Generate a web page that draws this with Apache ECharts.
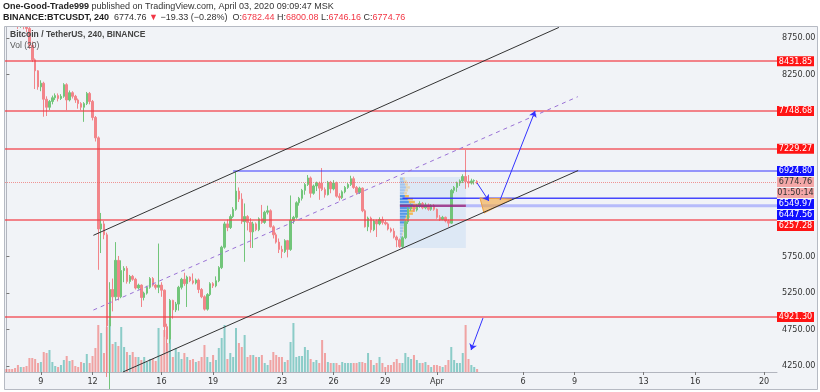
<!DOCTYPE html>
<html><head><meta charset="utf-8">
<script src="https://cdn.jsdelivr.net/npm/echarts@6/dist/echarts.min.js"></script>
<style>html,body{margin:0;padding:0;background:#fff;}#c{width:820px;height:392px;}</style>
</head><body><div id="c"></div>
<script>
// ---------- DATA ----------
const startMs = Date.UTC(2020, 2, 7, 0, 0);   // first 4h slot: Mar 7 00:00
const slotCount = 269;                          // slots up to Apr 20 16:00
const opens = [9150,9080,9050,9010,8960,8920,8950,8910,8880,8650,8450,8300,8080,8130,7910,7800,7880,7930,7960,7920,7950,8110,7900,8000,7950,7900,7850,7800,7850,7990,7880,7660,7380,6130,6200,6050,4800,5300,5200,5700,5200,5560,5590,5410,5480,5440,5320,5360,5190,5250,5330,5450,5360,5330,5360,5290,4790,4620,5150,5020,5100,5330,5440,5380,5470,5420,5390,5430,5300,5200,5030,5230,5380,5350,5420,5600,5880,6200,6150,6300,6400,6650,6540,6230,6300,6220,6090,6200,6120,6270,6220,6360,6380,6160,6050,5950,5850,5820,5970,5850,6250,6290,6490,6550,6660,6740,6830,6620,6720,6760,6760,6670,6600,6770,6680,6760,6580,6560,6640,6700,6740,6820,6700,6630,6690,6380,6160,6280,6120,6240,6200,6260,6220,6200,6130,6100,6020,5980,5890,6010,6230,6410,6450,6390,6440,6480,6420,6460,6400,6450,6400,6290,6260,6290,6240,6210,6660,6700,6760,6790,6850,6780,6760,6790,6782.44];
const closes = [9080,9050,9010,8960,8920,8950,8910,8880,8650,8450,8300,8080,8130,7910,7800,7880,7930,7960,7920,7950,8110,7900,8000,7950,7900,7850,7800,7850,7990,7880,7660,7380,6130,6200,6050,4800,5300,5200,5700,5200,5560,5590,5410,5480,5440,5320,5360,5190,5250,5330,5450,5360,5330,5360,5290,4790,4620,5150,5020,5100,5330,5440,5380,5470,5420,5390,5430,5300,5200,5030,5230,5380,5350,5420,5600,5880,6200,6150,6300,6400,6650,6540,6230,6300,6220,6090,6200,6120,6270,6220,6360,6380,6160,6050,5950,5850,5820,5970,5850,6250,6290,6490,6550,6660,6740,6830,6620,6720,6760,6690,6670,6600,6770,6680,6760,6580,6560,6640,6700,6740,6820,6700,6630,6690,6380,6160,6280,6120,6240,6200,6260,6220,6200,6130,6100,6020,5980,5890,6010,6230,6410,6450,6390,6440,6480,6420,6460,6400,6450,6400,6290,6260,6290,6240,6210,6660,6700,6760,6790,6850,6780,6760,6790,6794.09,6774.76];
const lows = [9040,8990,8960,8920,8875,8890,8870,8830,8600,8420,8050,8040,8020,7670,7680,7760,7840,7900,7880,7900,7930,7760,7880,7920,7860,7780,7760,7600,7830,7840,7620,7330,5570,5800,5990,4100,3782,5000,5150,5150,5180,5400,5380,5380,5420,5300,5300,5060,5150,5230,5310,5340,5300,5250,5200,4650,4450,4560,4900,4990,5010,5300,5350,5060,5400,5370,5370,5250,5180,5010,5010,5210,5320,5330,5400,5580,5860,6100,6130,6280,6380,6500,6200,5680,6110,5870,5870,6100,6100,6200,6200,6330,6150,6000,5930,5800,5730,5800,5740,5830,6200,6270,6450,6520,6600,6720,6560,6600,6650,6530,6650,6560,6590,6620,6660,6560,6520,6540,6620,6680,6720,6680,6600,6610,6360,6150,6100,6080,6100,6020,6180,6190,6180,6110,6080,6000,5880,5870,5870,5990,6200,6380,6370,6370,6420,6400,6400,6380,6380,6380,6270,6240,6250,6220,6160,6200,6620,6640,6720,6760,6680,6700,6740,6740,6746.16];
const highs = [9190,9150,9090,9040,8990,8990,8990,8950,8900,8700,8470,8310,8170,8150,7950,7900,7960,7990,7990,7980,8130,8130,8030,8020,7970,7920,7870,7870,8010,8010,7900,7680,7400,6350,6240,6080,5400,5450,5950,5760,5700,5620,5620,5500,5500,5460,5380,5370,5270,5350,5470,5470,5380,5930,5400,5300,4830,5170,5160,5130,5350,5460,5530,5490,5480,5520,5450,5450,5320,5220,5250,5400,5400,5480,5620,5900,6230,6260,6330,6430,6912,6700,6620,6480,6320,6280,6230,6220,6290,6460,6380,6450,6400,6180,6080,6000,5900,5990,5980,6590,6310,6510,6570,6680,6760,6870,6850,6740,6780,6780,6966,6700,6790,6790,6800,6780,6620,6660,6720,6760,6860,6850,6720,6710,6700,6400,6300,6300,6260,6260,6290,6300,6250,6220,6150,6140,6040,6000,6030,6250,6430,6480,6470,6470,6510,6500,6490,6480,6470,6470,6410,6320,6310,6300,6260,6680,6720,6780,6810,6880,7213,6870,6820,6810,6800.08];
const volumes = [3,3,3,4,7,5,5,6,14,14,13,9,10,20,19,22,10,6,5,7,12,16,11,12,6,5,10,9,18,9,16,24,47,39,19,45,52,28,30,26,45,25,20,17,20,15,15,12,15,10,13,13,11,44,17,42,29,47,15,24,20,13,19,15,12,13,10,11,15,27,15,10,17,12,24,34,47,13,19,15,44,29,25,37,15,17,17,15,15,17,9,7,12,20,17,15,15,10,12,30,49,15,16,16,25,22,13,10,12,9,32,19,10,9,9,9,7,10,9,9,9,9,9,10,10,9,19,12,7,9,15,9,5,7,7,10,13,9,9,19,15,13,17,12,9,9,10,7,5,7,7,6,5,7,12,25,12,9,9,19,47,13,7,5,3];
const tickDates = ['2020-03-09','2020-03-12','2020-03-16','2020-03-19','2020-03-23','2020-03-26','2020-03-29','2020-04-01','2020-04-06','2020-04-09','2020-04-13','2020-04-16','2020-04-20'];
const tickLabels = ['9','12','16','19','23','26','29','Apr','6','9','13','16','20'];
const priceAxisLabels = [4250, 4750, 5250, 5750, 8250, 8750];
const redLevels = [8431.85, 7748.68, 7229.27, 6257.28, 4921.30];
const lastPrice = 6774.76;
const highLevel = {price: 6924.80, fromSlot: 79};
const vpLevel = {price: 6549.97, fromSlot: 138};
const pocLevel = {price: 6447.56, fromSlot: 137.1, toSlot: 160.1};
const priceTags = [
  {text:'8431.85', price:8431.85, kind:'red'},
  {text:'7748.68', price:7748.68, kind:'red'},
  {text:'7229.27', price:7229.27, kind:'red'},
  {text:'6924.80', price:6924.80, kind:'blue'},
  {text:'6774.76', price:6774.76, kind:'last'},
  {text:'01:50:14', price:6774.76, kind:'last'},
  {text:'6549.97', price:6549.97, kind:'blue'},
  {text:'6447.56', price:6447.56, kind:'blue'},
  {text:'6257.28', price:6257.28, kind:'red'},
  {text:'4921.30', price:4921.30, kind:'red'}
];
// drawings (slot index, price)
const channelUpper = [[30.3, 6043], [192.5, 8895]];
const channelLower = [[40.6, 4168], [199.2, 6932]];
const channelMid = [[30.3, 5018], [199.1, 7945]];
const arrows = [
  [[164.0, 6761], [168.1, 6514]],
  [[172.0, 6527], [184.2, 7748]],
  [[166.05, 4908], [161.9, 4469]]
];
const triSlots = [165.0, 176.2, 166.4];
const triPrices = [6555, 6541, 6349];
const vpBox = {fromSlot: 137.1, toSlot: 160.1, top: 6843, bottom: 5869};
const profilePrice = [6820,6780,6740,6700,6660,6620,6580,6540,6500,6460,6420,6380,6340,6300,6260,6220,6180,6140,6100,6060,6020,5980,5940,5900];
const profileUp =    [3,4,5,6,5,4,5,8,9,13,10,9,8,6,5,5,4,3,3,2,2,1,1,1];
const profileDown =  [2,3,3,4,3,3,4,5,6,8,7,6,5,4,4,3,2,2,1,1,1,1,0,0];
const valueArea = [6200, 6580];

// ---------- BUILD ----------
const fontN = '"Liberation Sans Narrow","DejaVu Sans Condensed",sans-serif';
const fontS = '"Liberation Sans","DejaVu Sans",sans-serif';
const cats = [];
for (let i = 0; i < slotCount; i++) {
  const d = new Date(startMs + i * 4 * 3600e3);
  cats.push(d.toISOString().slice(0, 13).replace('T', ' ') + ':00');
}
const tickMap = {};
tickDates.forEach((d, i) => { tickMap[d + ' 00:00'] = tickLabels[i]; });
const isTick = (idx, v) => tickMap[v] !== undefined;

const upC = '#72c57a', dnC = '#f2858a';
const candleData = opens.map((o, i) => [o, closes[i], lows[i], highs[i]]);
const volData = volumes.map((v, i) => ({value: v, itemStyle: {color: closes[i] >= opens[i] ? 'rgba(38,166,154,0.5)' : 'rgba(239,83,80,0.5)'}}));

const redLine = {color: 'rgba(242,60,70,0.62)', width: 2, type: 'solid'};
const gridBox = {left: 5, right: 43, top: 27, bottom: 20};

const chart = echarts.init(document.getElementById('c'), null, {renderer: 'canvas'});
chart.setOption({
  animation: false,
  backgroundColor: '#f1f3f7',
  grid: [Object.assign({}, gridBox), Object.assign({}, gridBox)],
  xAxis: [
    {type: 'category', gridIndex: 0, data: cats, boundaryGap: true,
     axisLine: {show: true, lineStyle: {color: '#b2b5be', width: 1}},
     axisTick: {show: true, interval: isTick, alignWithLabel: true, length: 3, lineStyle: {color: '#777'}},
     axisLabel: {interval: isTick, formatter: v => tickMap[v], color: '#333', fontSize: 9, fontFamily: fontN, margin: 5},
     splitLine: {show: false}},
    {type: 'value', gridIndex: 0, min: -0.5, max: slotCount - 0.5, show: false},
    {type: 'category', gridIndex: 1, data: cats, show: false}
  ],
  yAxis: [
    {type: 'value', gridIndex: 0, position: 'right', min: 4168, max: 8901, scale: true,
     splitLine: {show: false},
     axisLine: {show: true, lineStyle: {color: '#b2b5be', width: 1}},
     axisTick: {show: true, customValues: priceAxisLabels, length: 3, lineStyle: {color: '#777'}},
     axisLabel: {customValues: priceAxisLabels, formatter: v => Number(v).toFixed(2), color: '#333', fontSize: 9, fontFamily: fontN, margin: 5}},
    {type: 'value', gridIndex: 1, min: 0, max: 345, show: false}
  ],
  series: [
    {type: 'bar', name: 'vol', xAxisIndex: 2, yAxisIndex: 1, data: volData, barWidth: 2, z: 1, silent: true},
    {type: 'custom', name: 'vpbox', xAxisIndex: 1, yAxisIndex: 0, z: 1, silent: true,
     data: [[vpBox.fromSlot, vpBox.top, vpBox.toSlot, vpBox.bottom]],
     renderItem: (params, api) => {
       const a = api.coord([api.value(0), api.value(1)]);
       const b = api.coord([api.value(2), api.value(3)]);
       return {type: 'rect', shape: {x: a[0], y: a[1], width: b[0] - a[0], height: b[1] - a[1]}, style: {fill: 'rgba(120,175,235,0.16)'}};
     }},
    {type: 'custom', name: 'profile', xAxisIndex: 1, yAxisIndex: 0, z: 2, silent: true,
     data: profilePrice.map((p, i) => [vpBox.fromSlot, p, profileUp[i], profileDown[i]]),
     renderItem: (params, api) => {
       const p = api.value(1), up = api.value(2), dn = api.value(3);
       const pt = api.coord([api.value(0), p]);
       const h = Math.abs(api.size([0, 40])[1]) * 0.82;
       const inVA = p >= valueArea[0] && p <= valueArea[1];
       return {type: 'group', children: [
         {type: 'rect', shape: {x: pt[0], y: pt[1] - h / 2, width: up, height: h}, style: {fill: inVA ? 'rgba(40,125,225,0.75)' : 'rgba(40,125,225,0.32)'}},
         {type: 'rect', shape: {x: pt[0] + up, y: pt[1] - h / 2, width: dn, height: h}, style: {fill: inVA ? 'rgba(245,175,50,0.8)' : 'rgba(245,175,50,0.35)'}}
       ]};
     }},
    {type: 'candlestick', name: 'BTCUSDT', xAxisIndex: 0, yAxisIndex: 0, data: candleData, barWidth: 2, clip: true, z: 3,
     itemStyle: {color: upC, color0: dnC, borderColor: upC, borderColor0: dnC, borderWidth: 1},
     markLine: {silent: true, symbol: 'none', label: {show: false}, animation: false,
       data: redLevels.map(p => ({yAxis: p, lineStyle: redLine})).concat([
         {yAxis: lastPrice, lineStyle: {color: 'rgba(239,83,80,0.6)', width: 1, type: 'dotted'}}
       ])}},
    {type: 'line', name: 'hi', xAxisIndex: 1, yAxisIndex: 0, z: 4, showSymbol: false, silent: true,
     data: [[highLevel.fromSlot, highLevel.price], [slotCount - 0.5, highLevel.price]],
     lineStyle: {color: 'rgba(40,40,255,0.62)', width: 1.5}},
    {type: 'line', name: 'poc2', xAxisIndex: 1, yAxisIndex: 0, z: 4, showSymbol: false, silent: true,
     data: [[pocLevel.toSlot, pocLevel.price], [slotCount - 0.5, pocLevel.price]],
     lineStyle: {color: 'rgba(110,120,255,0.45)', width: 3}},
    {type: 'line', name: 'poc', xAxisIndex: 1, yAxisIndex: 0, z: 4, showSymbol: false, silent: true,
     data: [[pocLevel.fromSlot, pocLevel.price], [pocLevel.toSlot, pocLevel.price]],
     lineStyle: {color: 'rgba(150,40,130,0.85)', width: 2.5}},
    {type: 'line', name: 'vp', xAxisIndex: 1, yAxisIndex: 0, z: 4, showSymbol: false, silent: true,
     data: [[vpLevel.fromSlot, vpLevel.price], [slotCount - 0.5, vpLevel.price]],
     lineStyle: {color: 'rgba(40,40,255,0.85)', width: 1.5}},
    {type: 'line', name: 'up', xAxisIndex: 1, yAxisIndex: 0, z: 5, showSymbol: false, silent: true,
     data: channelUpper, lineStyle: {color: '#333', width: 1}},
    {type: 'line', name: 'lo', xAxisIndex: 1, yAxisIndex: 0, z: 5, showSymbol: false, silent: true,
     data: channelLower, lineStyle: {color: '#333', width: 1}},
    {type: 'line', name: 'mid', xAxisIndex: 1, yAxisIndex: 0, z: 5, showSymbol: false, silent: true,
     data: channelMid, lineStyle: {color: '#9a72d6', width: 1, type: [4, 4]}},
    {type: 'custom', name: 'tri', xAxisIndex: 1, yAxisIndex: 0, z: 5, silent: true,
     data: [[triSlots[0], triPrices[0]]],
     renderItem: (params, api) => {
       const pts = triSlots.map((s, i) => api.coord([s, triPrices[i]]));
       return {type: 'polygon', shape: {points: pts}, style: {fill: 'rgba(245,166,60,0.6)', stroke: '#f0a040', lineWidth: 1}};
     }},
    {type: 'lines', name: 'arrows', coordinateSystem: 'cartesian2d', xAxisIndex: 1, yAxisIndex: 0, z: 6, silent: true,
     symbol: ['none', 'arrow'], symbolSize: 6,
     lineStyle: {color: '#3333ff', width: 1, opacity: 1, curveness: 0},
     data: arrows.map(a => ({coords: a}))}
  ]
});

// ---------- TEXT / TAGS ----------
const g = [];
g.push({type: 'rect', shape: {x: 0, y: 0, width: 820, height: 26.5}, style: {fill: '#fff'}, z: 10});
g.push({type: 'rect', shape: {x: 0, y: 0, width: 4, height: 392}, style: {fill: '#fff'}, z: 10});
g.push({type: 'rect', shape: {x: 818, y: 0, width: 2, height: 392}, style: {fill: '#fff'}, z: 10});
g.push({type: 'rect', shape: {x: 0, y: 390, width: 820, height: 2}, style: {fill: '#fff'}, z: 10});
g.push({type: 'rect', shape: {x: 4.5, y: 26.5, width: 813, height: 363}, style: {fill: 'none', stroke: '#b6bac3', lineWidth: 1}, z: 11});
const hdr = {fontSize: 9, fontFamily: fontS};
g.push({type: 'text', x: 3, y: 2, z: 12, style: Object.assign({}, hdr, {
  text: '{b|One-Good-Trade999} published on TradingView.com, April 03, 2020 09:09:47 MSK',
  fill: '#333',
  rich: {b: {fontWeight: 'bold', fontSize: 9, fontFamily: fontS, fill: '#222'}}})});
g.push({type: 'text', x: 3, y: 13, z: 12, style: Object.assign({}, hdr, {
  text: '{b|BINANCE:BTCUSDT, 240}  6774.76 {r|▼} −19.33 (−0.28%)  O:{r|6782.44} H:{r|6800.08} L:{r|6746.16} C:{r|6774.76}',
  fill: '#333',
  rich: {b: {fontWeight: 'bold', fontSize: 9, fontFamily: fontS, fill: '#222'}, r: {fontSize: 9, fontFamily: fontS, fill: '#f23645'}}})});
g.push({type: 'text', x: 10, y: 30, z: 12, style: {text: 'Bitcoin / TetherUS, 240, BINANCE', fontSize: 8.5, fontWeight: 'bold', fontFamily: fontS, fill: '#444'}});
g.push({type: 'text', x: 10, y: 41, z: 12, style: {text: 'Vol (20)', fontSize: 8.5, fontFamily: fontS, fill: '#555'}});

const tagColors = {red: ['#ff1414', '#fff'], blue: ['#1010ff', '#fff'], last: ['#f4a7a7', '#333']};
const tagItems = priceTags.map(t => ({t, y: chart.convertToPixel({yAxisIndex: 0}, t.price)}));
tagItems.sort((a, b) => a.y - b.y);
let prev = -100;
tagItems.forEach(it => {
  let y = Math.max(it.y, prev + 11);
  prev = y;
  const c = tagColors[it.t.kind];
  g.push({type: 'rect', z: 13, shape: {x: 777, y: y - 5, width: 37, height: 10}, style: {fill: c[0]}});
  g.push({type: 'text', z: 14, x: 795.5, y: y, style: {text: it.t.text, fontSize: 9, fontFamily: fontN, fill: c[1], align: 'center', verticalAlign: 'middle'}});
});
chart.setOption({graphic: g});
</script></body></html>
